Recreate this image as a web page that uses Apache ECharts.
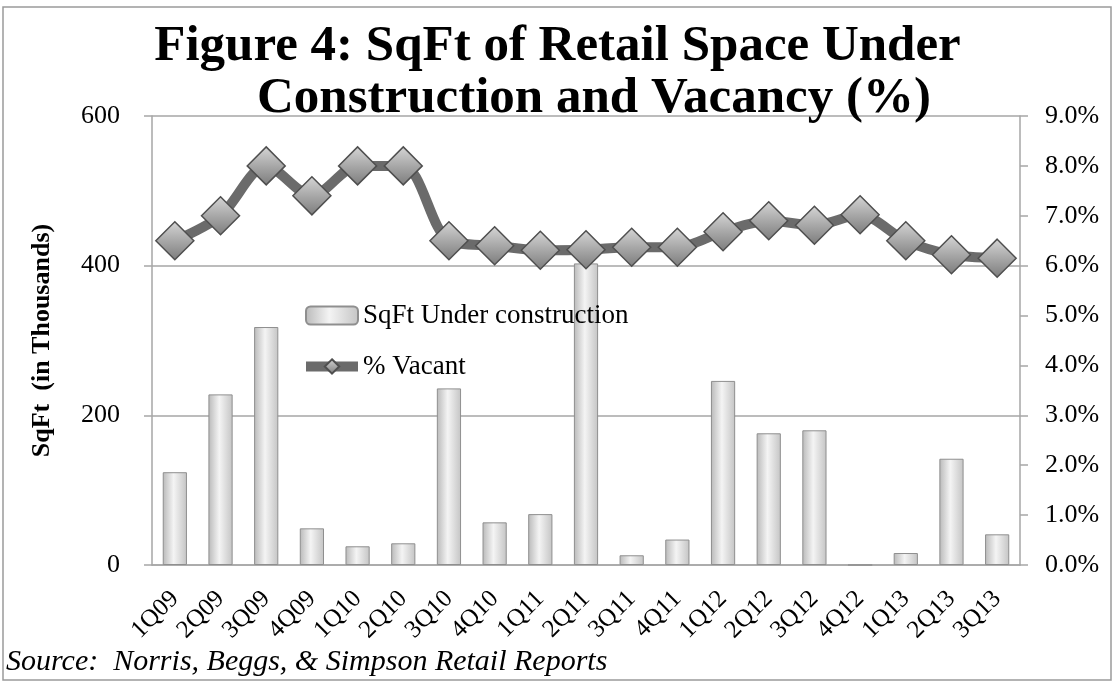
<!DOCTYPE html>
<html>
<head>
<meta charset="utf-8">
<title>Figure 4</title>
<script src="https://cdn.jsdelivr.net/npm/echarts@6/dist/echarts.min.js"></script>
<style>
  html, body { margin: 0; padding: 0; background: #fff; }
  #chart { width: 1115px; height: 681px; }
</style>
</head>
<body>
<div id="chart"></div>
<script>
// quarters
var quarters = ["1Q09", "2Q09", "3Q09", "4Q09", "1Q10", "2Q10", "3Q10", "4Q10", "1Q11", "2Q11",
  "3Q11", "4Q11", "1Q12", "2Q12", "3Q12", "4Q12", "1Q13", "2Q13", "3Q13"];
// sqft under construction, thousands
var sqftUnderConstruction = [124, 228, 318, 49, 25, 29, 236, 57, 68, 403,
  13, 34, 246, 176, 180, 0, 16, 142, 41];
// vacancy, percent
var pctVacant = [6.5, 7.0, 8.0, 7.4, 8.0, 8.0, 6.5, 6.4, 6.31, 6.32,
  6.37, 6.37, 6.68, 6.9, 6.81, 7.02, 6.5, 6.22, 6.15];

var serif = "Liberation Serif";
var gridColor = "#a6a6a6";

var titleStyle = {
  fontFamily: serif,
  fontWeight: "bold",
  fontSize: 51,
  color: "#000"
};

var myChart = echarts.init(document.getElementById("chart"));
var option = {
  backgroundColor: "#fff",
  animation: false,
  title: [
    {
      text: "Figure 4: SqFt of Retail Space Under",
      left: "center",
      top: 21,
      padding: 0,
      textStyle: titleStyle
    },
    {
      text: "Construction and Vacancy (%)",
      left: 257,
      top: 73,
      padding: 0,
      textStyle: titleStyle
    }
  ],
  legend: {
    orient: "vertical",
    left: 296,
    top: 297,
    itemGap: 24,
    itemWidth: 52,
    itemHeight: 18,
    textStyle: { fontFamily: serif, fontSize: 27, color: "#000" },
    data: [
      { name: "SqFt Under construction" },
      { name: "% Vacant", lineStyle: { width: 10 } }
    ]
  },
  grid: {
    left: 152,
    right: 95,
    top: 116,
    bottom: 116
  },
  xAxis: {
    type: "category",
    data: quarters,
    axisLine: { lineStyle: { color: gridColor, width: 1.5 } },
    axisTick: { length: 8, interval: 0, lineStyle: { color: gridColor, width: 1.5 } },
    axisLabel: {
      interval: 0,
      rotate: 45,
      margin: 30,
      fontFamily: serif,
      fontSize: 25,
      color: "#000"
    }
  },
  yAxis: [
    {
      type: "value",
      min: 0,
      max: 600,
      interval: 200,
      name: "SqFt  (in Thousands)",
      nameLocation: "middle",
      nameGap: 97,
      nameTextStyle: { fontFamily: serif, fontWeight: "bold", fontSize: 26, color: "#000" },
      axisLine: { show: true, lineStyle: { color: gridColor, width: 1.5 } },
      axisTick: { show: true, length: 8, lineStyle: { color: gridColor, width: 1.5 } },
      axisLabel: { margin: 32, fontFamily: serif, fontSize: 26, color: "#000" },
      splitLine: { lineStyle: { color: gridColor, width: 1.5 } }
    },
    {
      type: "value",
      min: 0,
      max: 9,
      interval: 1,
      position: "right",
      axisLine: { show: true, lineStyle: { color: gridColor, width: 1.5 } },
      axisTick: { show: true, length: 8, lineStyle: { color: gridColor, width: 1.5 } },
      axisLabel: {
        margin: 25,
        fontFamily: serif,
        fontSize: 26,
        color: "#000",
        formatter: function (v) { return v.toFixed(1) + "%"; }
      },
      splitLine: { show: false }
    }
  ],
  series: [
    {
      name: "SqFt Under construction",
      type: "bar",
      yAxisIndex: 0,
      barWidth: "53%",
      data: sqftUnderConstruction,
      itemStyle: {
        color: new echarts.graphic.LinearGradient(0, 0, 1, 0, [
          { offset: 0, color: "#b9b9b9" },
          { offset: 0.45, color: "#f4f4f4" },
          { offset: 1, color: "#c4c4c4" }
        ]),
        borderColor: "#8f8f8f",
        borderWidth: 1
      }
    },
    {
      name: "% Vacant",
      type: "line",
      yAxisIndex: 1,
      smooth: 0.3,
      showAllSymbol: true,
      data: pctVacant,
      symbol: "diamond",
      symbolSize: 38,
      lineStyle: { color: "#6b6b6b", width: 10 },
      itemStyle: {
        color: new echarts.graphic.LinearGradient(0, 0, 0, 1, [
          { offset: 0, color: "#d6d6d6" },
          { offset: 0.5, color: "#a8a8a8" },
          { offset: 1, color: "#7c7c7c" }
        ]),
        borderColor: "#4f4f4f",
        borderWidth: 1.5
      }
    }
  ],
  graphic: [
    {
      type: "rect",
      shape: { x: 3, y: 7, width: 1108, height: 673 },
      style: { fill: "none", stroke: "#9a9a9a", lineWidth: 1.5 },
      silent: true
    },
    {
      type: "text",
      left: 6,
      top: 647,
      style: {
        text: "Source:  Norris, Beggs, & Simpson Retail Reports",
        fontFamily: serif,
        fontStyle: "italic",
        fontSize: 30,
        fill: "#000"
      }
    }
  ]
};
myChart.setOption(option);
</script>
</body>
</html>
